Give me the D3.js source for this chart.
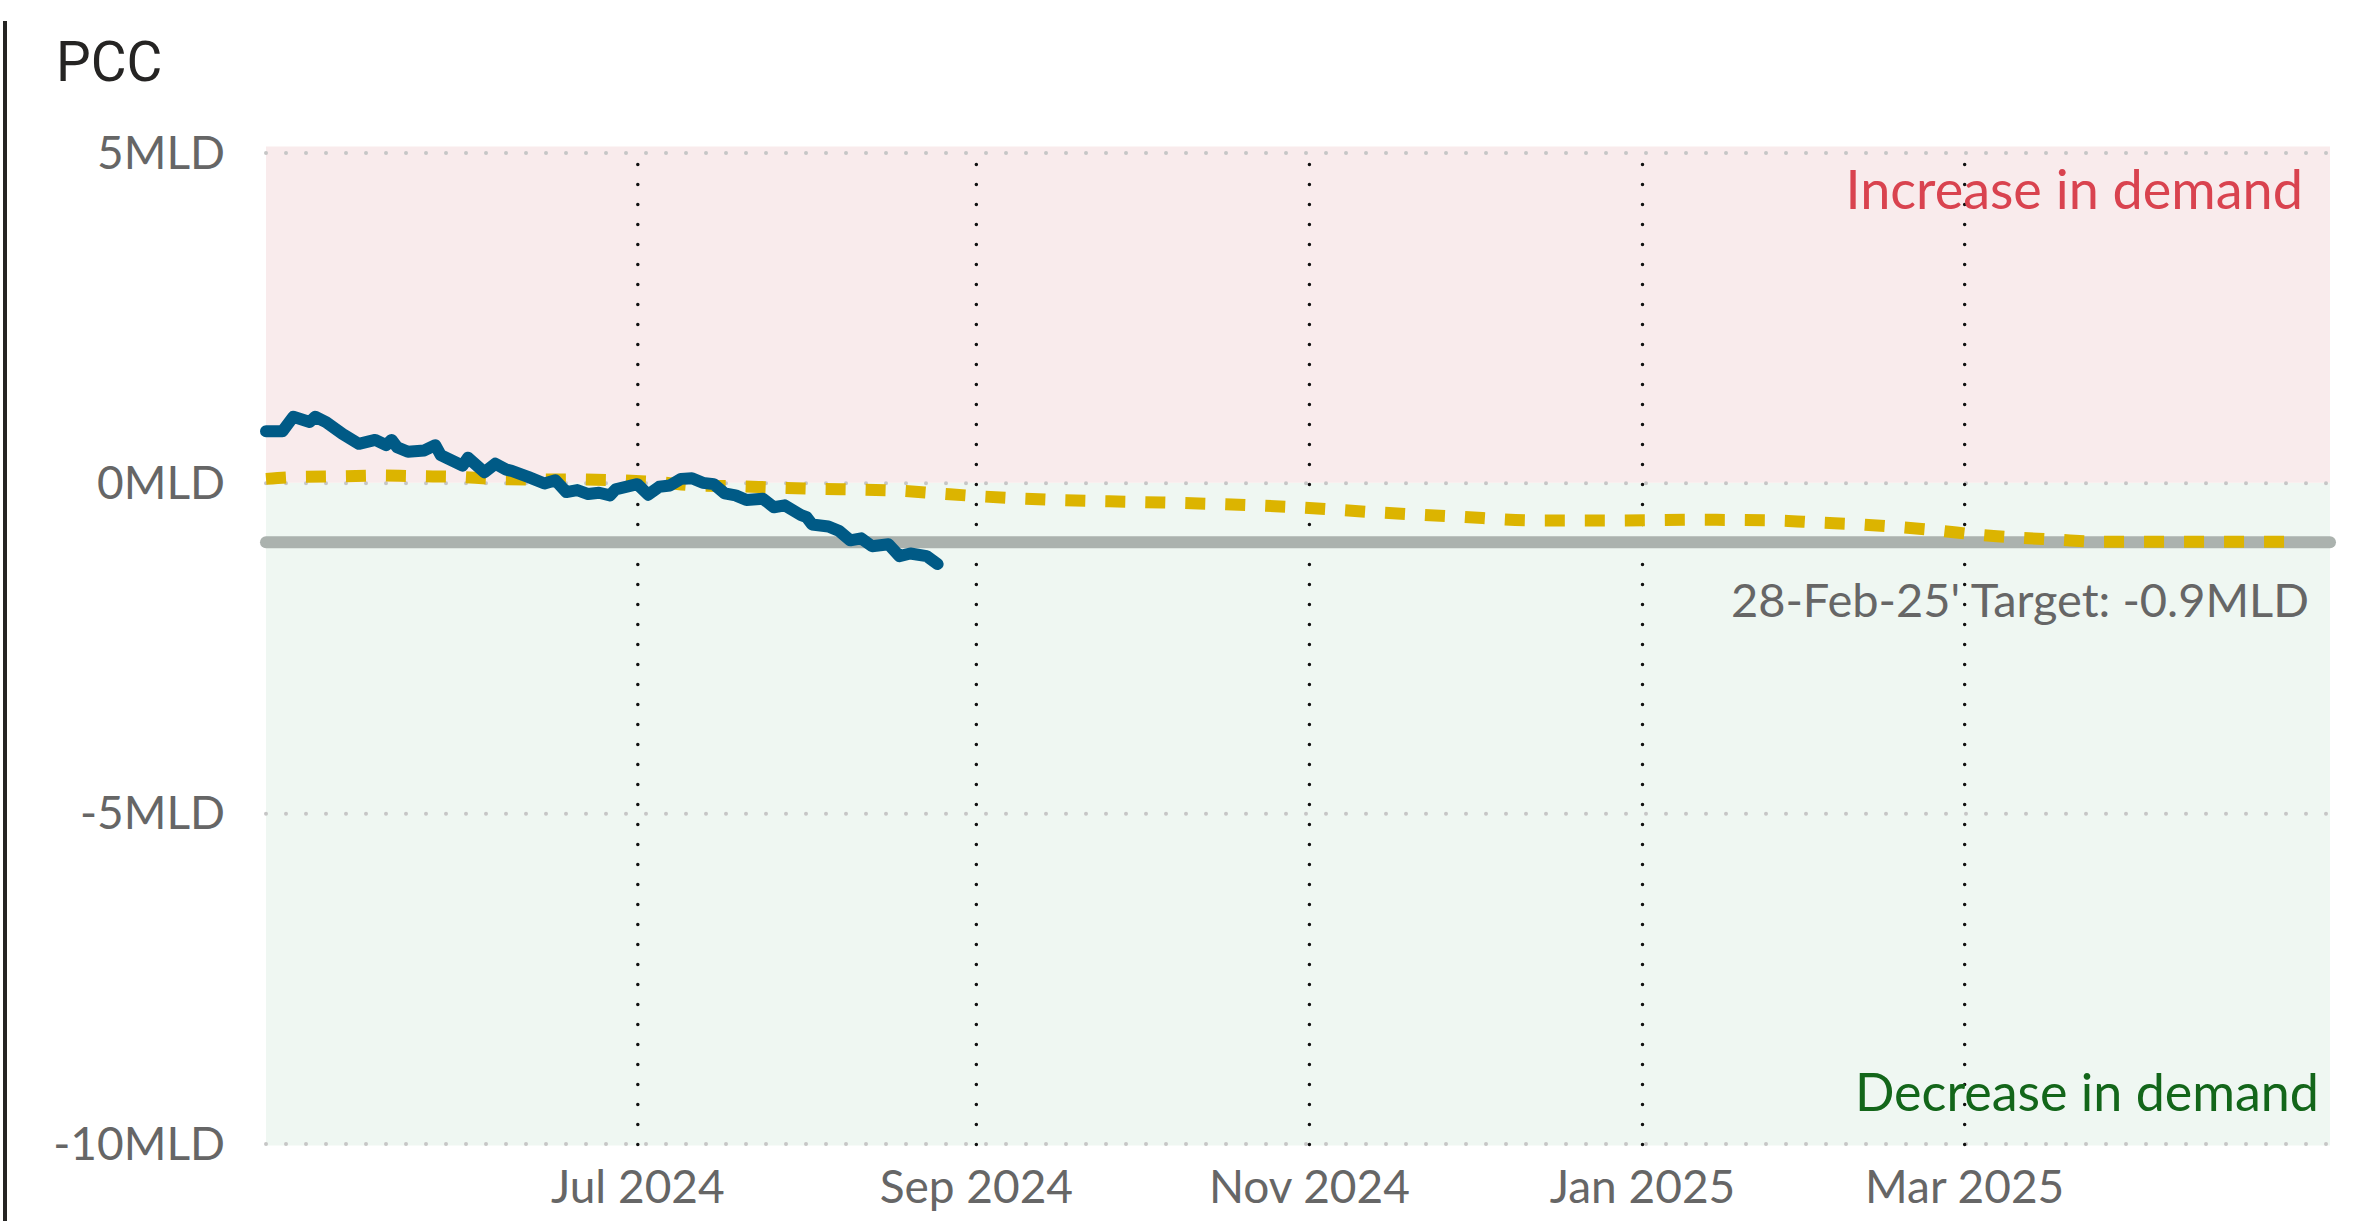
<!DOCTYPE html>
<html>
<head>
<meta charset="utf-8">
<script src="https://cdn.jsdelivr.net/npm/d3@7"></script>
<style>
  body { margin: 0; background: #fff; }
  svg { display: block; }
</style>
</head>
<body>
<svg width="2356" height="1221"></svg>
<script>
// actual PCC (blue)
var actualDates = ["2024-04-24","2024-04-27","2024-04-29","2024-05-02","2024-05-03","2024-05-05","2024-05-08","2024-05-11",
  "2024-05-14","2024-05-16","2024-05-17","2024-05-18","2024-05-20","2024-05-23","2024-05-25","2024-05-26","2024-05-30",
  "2024-05-31","2024-06-03","2024-06-05","2024-06-07","2024-06-08","2024-06-11","2024-06-14","2024-06-16","2024-06-18",
  "2024-06-20","2024-06-22","2024-06-24","2024-06-26","2024-06-27","2024-07-01","2024-07-03","2024-07-05","2024-07-07",
  "2024-07-09","2024-07-11","2024-07-13","2024-07-15","2024-07-17","2024-07-19","2024-07-21","2024-07-24","2024-07-26",
  "2024-07-28","2024-07-31","2024-08-01","2024-08-02","2024-08-05","2024-08-07","2024-08-09","2024-08-11","2024-08-13",
  "2024-08-16","2024-08-18","2024-08-20","2024-08-23","2024-08-25"];
var actualValues = [0.78,0.78,1.0,0.92,1.0,0.92,0.74,0.59,
  0.65,0.57,0.65,0.54,0.47,0.49,0.57,0.42,0.26,
  0.38,0.16,0.29,0.2,0.18,0.09,-0.01,0.04,-0.14,
  -0.11,-0.17,-0.15,-0.19,-0.1,-0.02,-0.18,-0.06,-0.04,
  0.06,0.07,0.0,-0.02,-0.16,-0.19,-0.26,-0.24,-0.37,
  -0.34,-0.49,-0.52,-0.63,-0.66,-0.73,-0.87,-0.84,-0.96,
  -0.93,-1.11,-1.07,-1.11,-1.23];

// trajectory (yellow dashed)
var planDates = ["2024-04-24","2024-04-30","2024-05-08","2024-05-15","2024-05-22","2024-05-29","2024-06-05","2024-06-13",
  "2024-06-20","2024-06-27","2024-07-05","2024-07-12","2024-07-19","2024-07-26","2024-08-03","2024-08-10","2024-08-18",
  "2024-08-25","2024-09-01","2024-09-16","2024-10-01","2024-10-15","2024-10-30","2024-11-14","2024-11-28","2024-12-13",
  "2024-12-28","2025-01-11","2025-01-26","2025-02-02","2025-02-10","2025-02-17","2025-02-24","2025-03-04","2025-03-11",
  "2025-03-18","2025-03-26","2025-04-30"];
var planValues = [0.06,0.09,0.10,0.11,0.10,0.09,0.06,0.05,
  0.05,0.04,0.01,-0.04,-0.05,-0.07,-0.09,-0.10,-0.12,
  -0.16,-0.20,-0.26,-0.29,-0.32,-0.37,-0.45,-0.51,-0.57,
  -0.57,-0.56,-0.57,-0.60,-0.63,-0.67,-0.72,-0.79,-0.83,
  -0.86,-0.89,-0.89];

var targetValue = -0.9;
var targetLabel = "28-Feb-25' Target: -0.9MLD";
var yTicks = [5, 0, -5, -10];
var xTicks = ["2024-07-01","2024-09-01","2024-11-01","2025-01-01","2025-03-01"];
var xDomain = ["2024-04-24","2025-05-07"];

var parse = d3.timeParse("%Y-%m-%d");
var svg = d3.select("svg");
var textFont = "Lato, 'Open Sans', sans-serif";

var x = d3.scaleTime()
    .domain(xDomain.map(parse))
    .range([266, 2330]);
var y = d3.scaleLinear()
    .domain([-10, 5])
    .range([1143.5, 152.5]);

var x0 = x.range()[0], x1 = x.range()[1];

// left border bar
svg.append("rect")
    .attr("x", 3).attr("y", 21)
    .attr("width", 4).attr("height", 1200)
    .attr("fill", "#252423");

svg.append("text")
    .attr("x", 56).attr("y", 81)
    .style("font-family", "Roboto, sans-serif")
    .style("font-size", "55px")
    .attr("fill", "#252423")
    .text("PCC");

// background bands
svg.append("rect")
    .attr("x", x0).attr("y", y(5) - 6)
    .attr("width", x1 - x0).attr("height", y(0) - y(5) + 6)
    .attr("fill", "#f9ebec");
svg.append("rect")
    .attr("x", x0).attr("y", y(0))
    .attr("width", x1 - x0).attr("height", y(-10) - y(0) + 2)
    .attr("fill", "#eff7f2");

// horizontal grid + y labels
var yAxis = svg.append("g")
    .attr("transform", "translate(" + x0 + ",0)")
    .call(d3.axisLeft(y).tickValues(yTicks).tickSize(-(x1 - x0)).tickFormat(function(d){ return d + "MLD"; }));
yAxis.select(".domain").remove();
yAxis.selectAll(".tick line")
    .attr("x1", 0).attr("x2", x1 - x0)
    .attr("stroke", "#c6c6c6")
    .attr("stroke-width", 4)
    .attr("stroke-linecap", "round")
    .attr("stroke-dasharray", "0,20");
yAxis.selectAll(".tick text")
    .attr("x", 225 - x0)
    .attr("dy", "0.34em")
    .attr("text-anchor", "end")
    .style("font-family", textFont)
    .style("font-size", "46px")
    .attr("fill", "#666");

// vertical grid + x labels
var xAxis = svg.append("g")
    .attr("transform", "translate(0," + (y(-10) + 1) + ")")
    .call(d3.axisBottom(x).tickValues(xTicks.map(parse)).tickFormat(d3.timeFormat("%b %Y")));
xAxis.select(".domain").remove();
xAxis.selectAll(".tick line")
    .attr("y1", 0).attr("y2", y(5) - y(-10) - 3)
    .attr("stroke", "#111")
    .attr("stroke-width", 3.5)
    .attr("stroke-linecap", "round")
    .attr("stroke-dasharray", "0,20");
xAxis.selectAll(".tick text")
    .attr("y", 58).attr("dy", 0)
    .style("font-family", textFont)
    .style("font-size", "46px")
    .attr("fill", "#666");

// target line
svg.append("line")
    .attr("x1", x0).attr("x2", x1)
    .attr("y1", y(targetValue)).attr("y2", y(targetValue))
    .attr("stroke", "#abb2ae")
    .attr("stroke-width", 12)
    .attr("stroke-linecap", "round");

var plan = planDates.map(function(d, i){ return {date: parse(d), value: planValues[i]}; });
var actual = actualDates.map(function(d, i){ return {date: parse(d), value: actualValues[i]}; });

svg.append("path")
    .datum(plan)
    .attr("fill", "none")
    .attr("stroke", "#dcb400")
    .attr("stroke-width", 12)
    .attr("stroke-dasharray", "20,20")
    .attr("d", d3.line()
      .curve(d3.curveMonotoneX)
      .x(function(d){ return x(d.date); })
      .y(function(d){ return y(d.value); }));

svg.append("path")
    .datum(actual)
    .attr("fill", "none")
    .attr("stroke", "#005a86")
    .attr("stroke-width", 12)
    .attr("stroke-linejoin", "round")
    .attr("stroke-linecap", "round")
    .attr("d", d3.line()
      .x(function(d){ return x(d.date); })
      .y(function(d){ return y(d.value); }));

// annotations
svg.append("text")
    .attr("x", 2309).attr("y", 617)
    .attr("text-anchor", "end")
    .style("font-family", textFont)
    .style("font-size", "47px")
    .attr("fill", "#666")
    .text(targetLabel);

svg.append("text")
    .attr("x", 2303).attr("y", 209)
    .attr("text-anchor", "end")
    .style("font-family", textFont)
    .style("font-size", "54px")
    .attr("fill", "#d9434f")
    .text("Increase in demand");

svg.append("text")
    .attr("x", 2319).attr("y", 1111)
    .attr("text-anchor", "end")
    .style("font-family", textFont)
    .style("font-size", "52px")
    .attr("fill", "#13661a")
    .text("Decrease in demand");
</script>
</body>
</html>
